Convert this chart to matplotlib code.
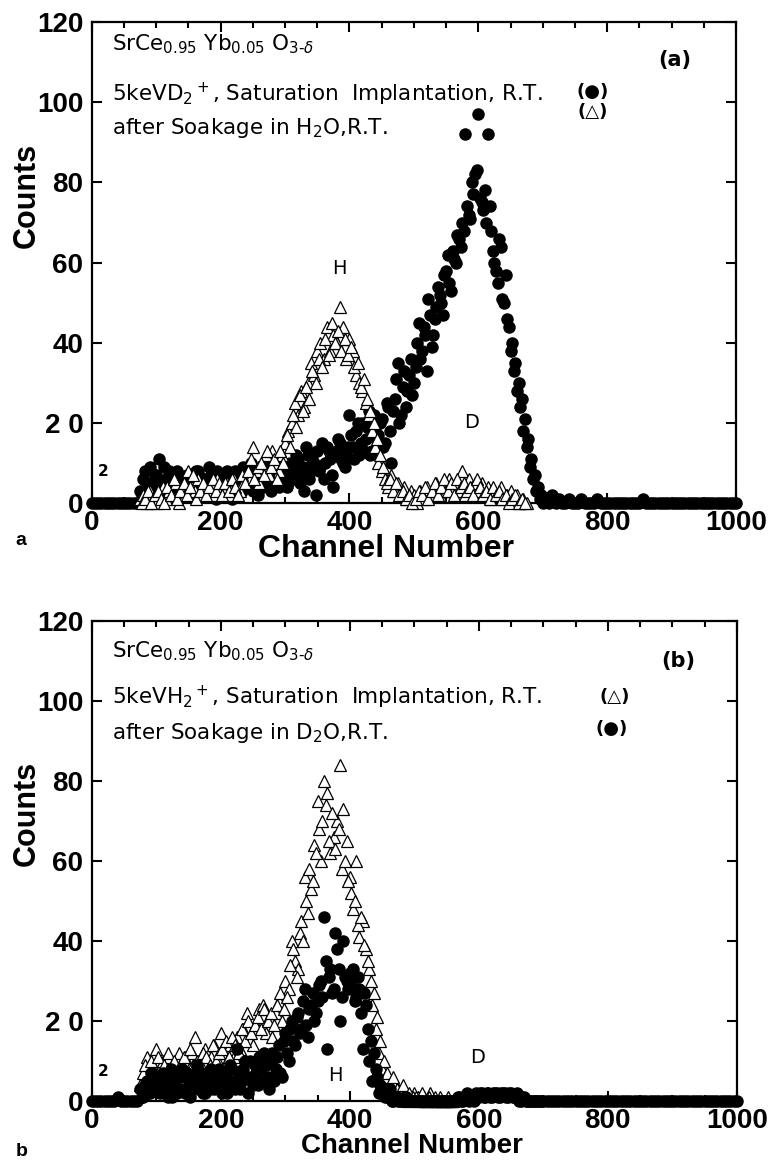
import numpy as np
import matplotlib
matplotlib.use("Agg")
import matplotlib.pyplot as plt
from matplotlib.ticker import MultipleLocator, FixedLocator, FixedFormatter

plt.rcParams['font.family'] = ['DejaVu Sans']
plt.rcParams['mathtext.fontset'] = 'dejavusans'

# channel grids: full range every 5 channels, plus in-between channels over the peaks
channels = np.arange(0, 1001, 5)
channels_mid = np.arange(77.5, 700, 5)

# (a) 5 keV D2+ implantation (filled circles)
a_implant = [
    0, 0, 0, 0, 0, 0, 0, 0, 0, 0, 0, 0, 0, 0, 0, 3, 6, 4, 9, 5,
    7, 11, 4, 6, 8, 3, 5, 7, 2, 6, 4, 7, 3, 8, 5, 6, 4, 7, 2, 8,
    5, 3, 8, 6, 2, 7, 4, 9, 5, 6, 3, 8, 7, 4, 9, 5, 6, 10, 4, 7,
    8, 5, 9, 6, 11, 7, 3, 12, 8, 10, 13, 9, 6, 14, 11, 4, 13, 15, 10, 12,
    22, 14, 18, 12, 20, 16, 23, 13, 19, 17, 21, 15, 24, 10, 26, 35, 22, 33, 28, 36,
    30, 40, 36, 44, 33, 47, 42, 49, 52, 47, 58, 55, 63, 60, 66, 70, 92, 72, 80, 82,
    97, 75, 78, 92, 68, 60, 55, 64, 50, 46, 38, 33, 28, 24, 18, 14, 9, 6, 3, 1,
    0, 1, 0, 2, 0, 1, 0, 0, 1, 0, 0, 0, 1, 0, 0, 0, 0, 1, 0, 0,
    0, 0, 0, 0, 0, 0, 0, 0, 0, 0, 0, 1, 0, 0, 0, 0, 0, 0, 0, 0,
    0, 0, 0, 0, 0, 0, 0, 0, 0, 0, 0, 0, 0, 0, 0, 0, 0, 0, 0, 0,
    0,
]
a_implant_mid = [
    2, 8, 5, 3, 7,
    5, 2, 9, 4, 6, 1, 8, 5, 3, 7, 6, 2, 8, 4, 6, 3, 9, 5, 1, 6,
    3, 7, 5, 1, 8, 6, 3, 7, 4, 10, 6, 2, 9, 5, 8, 3, 7, 11, 6, 9,
    4, 10, 7, 12, 5, 9, 14, 6, 11, 2, 8, 15, 10, 13, 7, 12, 16, 11, 9, 14,
    17, 11, 20, 15, 13, 19, 12, 22, 16, 20, 14, 25, 18, 23, 31, 20, 29, 24, 32, 27,
    34, 45, 38, 42, 51, 39, 46, 54, 50, 57, 62, 53, 61, 67, 64, 68, 74, 71, 77, 83,
    76, 73, 70, 74, 63, 58, 66, 51, 57, 44, 40, 35, 30, 26, 21, 16, 11, 7, 4, 2,
]
# (a) after soakage in H2O (open triangles)
a_soak = [
    0, 0, 0, 0, 0, 0, 0, 0, 0, 0, 0, 0, 0, 0, 0, 1, 2, 0, 3, 1,
    0, 2, 4, 1, 3, 2, 5, 0, 3, 2, 8, 4, 3, 6, 2, 4, 3, 5, 2, 6,
    4, 3, 5, 2, 6, 4, 3, 5, 7, 6, 14, 8, 5, 9, 12, 7, 13, 10, 8, 12,
    15, 18, 20, 25, 22, 28, 24, 30, 35, 32, 38, 40, 36, 44, 38, 42, 40, 49, 44, 36,
    41, 38, 32, 30, 28, 25, 22, 18, 14, 10, 8, 6, 4, 7, 3, 5, 2, 4, 1, 3,
    2, 0, 3, 1, 4, 2, 3, 5, 2, 4, 3, 6, 4, 5, 3, 8, 2, 6, 4, 5,
    3, 5, 2, 4, 1, 3, 2, 4, 1, 2, 3, 1, 2, 0, 1, 0, 0, 0, 0, 0,
    0, 0, 0, 0, 0, 0, 0, 0, 0, 0, 0, 0, 0, 0, 0, 0, 0, 0, 0, 0,
    0, 0, 0, 0, 0, 0, 0, 0, 0, 0, 0, 0, 0, 0, 0, 0, 0, 0, 0, 0,
    0, 0, 0, 0, 0, 0, 0, 0, 0, 0, 0, 0, 0, 0, 0, 0, 0, 0, 0, 0,
    0,
]
a_soak_mid = [
    0, 1, 3, 0, 2,
    3, 1, 0, 4, 2, 6, 1, 3, 5, 2, 4, 7, 1, 3, 5, 2, 4, 6, 3, 5,
    2, 5, 3, 6, 4, 2, 7, 5, 8, 11, 6, 9, 10, 7, 13, 9, 11, 6, 13, 10,
    17, 14, 22, 19, 27, 23, 29, 26, 33, 30, 36, 34, 41, 37, 45, 40, 43, 38, 41, 37,
    39, 34, 35, 29, 31, 26, 23, 20, 16, 12, 9, 5, 6, 3, 5, 2, 3, 1, 2, 0,
    1, 3, 2, 4, 1, 3, 5, 2, 4, 6, 3, 5, 2, 6, 4, 5, 3, 4, 2, 6,
    4, 2, 3, 1, 4, 2, 3, 1, 2, 0, 1, 2, 0, 1, 0, 0, 0, 0, 0, 0,
]
# (b) 5 keV H2+ implantation (open triangles)
b_implant = [
    0, 0, 0, 0, 0, 0, 0, 0, 0, 0, 0, 0, 0, 0, 0, 4, 7, 11, 6, 9,
    13, 8, 10, 6, 11, 9, 7, 12, 9, 11, 8, 12, 16, 10, 9, 13, 8, 11, 14, 10,
    17, 12, 10, 14, 11, 16, 13, 18, 22, 15, 14, 19, 23, 24, 17, 21, 16, 22, 25, 20,
    30, 28, 40, 35, 33, 45, 56, 47, 53, 64, 75, 60, 80, 77, 62, 66, 70, 84, 73, 65,
    56, 48, 60, 41, 45, 38, 33, 24, 18, 12, 8, 6, 3, 5, 2, 3, 1, 2, 0, 1,
    2, 1, 0, 1, 0, 2, 0, 0, 1, 0, 0, 0, 0, 0, 1, 0, 0, 0, 0, 0,
    0, 0, 0, 0, 0, 0, 0, 0, 0, 0, 0, 0, 0, 0, 0, 0, 0, 0, 0, 0,
    0, 0, 0, 0, 0, 0, 0, 0, 0, 0, 0, 0, 0, 0, 0, 0, 0, 0, 0, 0,
    0, 0, 0, 0, 0, 0, 0, 0, 0, 0, 0, 0, 0, 0, 0, 0, 0, 0, 0, 0,
    0, 0, 0, 0, 0, 0, 0, 0, 0, 0, 0, 0, 0, 0, 0, 0, 0, 0, 0, 0,
    0,
]
b_implant_mid = [
    2, 9, 5, 10, 7,
    11, 6, 9, 12, 8, 10, 5, 9, 11, 7, 13, 9, 10, 8, 12, 11, 9, 14, 10, 12,
    13, 15, 11, 16, 14, 12, 18, 15, 20, 17, 19, 21, 18, 23, 20, 22, 19, 24, 27, 23,
    26, 34, 38, 31, 42, 40, 50, 58, 55, 62, 68, 70, 74, 65, 72, 63, 68, 58, 60, 55,
    52, 50, 44, 46, 39, 35, 30, 27, 21, 15, 10, 7, 4, 6, 3, 2, 4, 1, 2, 1,
    1, 0, 2, 0, 1, 0, 1, 0, 0, 0, 1, 0, 0, 0, 0, 0, 0, 0, 0, 0,
    0, 0, 0, 0, 0, 0, 0, 0, 0, 0, 0, 0, 0, 0, 0, 0, 0, 0, 0, 0,
]
# (b) after soakage in D2O (filled circles)
b_soak = [
    0, 0, 0, 0, 0, 0, 0, 0, 1, 0, 0, 0, 0, 0, 0, 3, 1, 5, 2, 6,
    4, 2, 7, 3, 5, 1, 6, 3, 8, 2, 5, 4, 7, 3, 6, 2, 5, 8, 3, 6,
    4, 7, 2, 9, 5, 13, 3, 8, 6, 10, 4, 7, 11, 5, 9, 3, 12, 8, 14, 6,
    17, 10, 20, 14, 22, 18, 28, 16, 24, 20, 25, 30, 46, 13, 33, 28, 38, 20, 40, 30,
    32, 33, 26, 28, 13, 24, 10, 5, 8, 2, 3, 1, 2, 0, 1, 0, 0, 1, 0, 0,
    0, 0, 0, 0, 0, 0, 0, 0, 0, 0, 0, 0, 0, 0, 1, 0, 1, 0, 1, 2,
    1, 2, 1, 2, 1, 2, 1, 2, 2, 1, 2, 1, 2, 0, 1, 0, 0, 0, 0, 0,
    0, 0, 0, 0, 0, 0, 0, 0, 0, 0, 0, 0, 0, 0, 0, 0, 0, 0, 0, 0,
    0, 0, 0, 0, 0, 0, 0, 0, 0, 0, 0, 0, 0, 0, 0, 0, 0, 0, 0, 0,
    0, 0, 0, 0, 0, 0, 0, 0, 0, 0, 0, 0, 0, 0, 0, 0, 0, 0, 0, 0,
    0,
]
b_soak_mid = [
    1, 4, 2, 7, 3,
    6, 3, 5, 1, 8, 4, 2, 6, 3, 7, 1, 5, 9, 4, 2, 7, 3, 6, 4, 8,
    2, 6, 4, 8, 3, 7, 5, 10, 2, 6, 9, 4, 8, 12, 6, 10, 5, 11, 7, 15,
    12, 18, 15, 21, 17, 25, 19, 23, 27, 22, 29, 26, 35, 31, 27, 42, 33, 26, 31, 28,
    29, 25, 31, 22, 27, 18, 15, 12, 6, 4, 2, 1, 3, 0, 1, 0, 0, 1, 0, 0,
    0, 0, 0, 0, 0, 0, 0, 0, 0, 0, 0, 0, 0, 1, 0, 1, 2, 1, 0, 1,
    2, 1, 2, 1, 2, 2, 1, 2, 1, 2, 1, 1, 0, 1, 0, 0, 0, 0, 0, 0,
]

ytick_vals = [0, 20, 40, 60, 80, 100, 120]
ytick_labels = ['0', '2 0', '40', '60', '80', '100', '120']
xtick_vals = [0, 200, 400, 600, 800, 1000]

bold = dict(family=['Liberation Sans Narrow', 'Liberation Sans'], weight='bold')
note = 15.5

fig = plt.figure(figsize=(7.78, 11.62), dpi=100)
ax_a = fig.add_axes([0.118, 0.567, 0.828, 0.414])
ax_b = fig.add_axes([0.118, 0.0525, 0.829, 0.413])


def circles(ax, x, y):
    ax.plot(x, y, 'o', ms=8, color='black', linestyle='none', clip_on=False, zorder=3)


def triangles(ax, x, y):
    ax.plot(x, y, '^', ms=8.4, mfc='white', mec='black', mew=0.9,
            linestyle='none', clip_on=False, zorder=3)


def pick(x, y, lo, hi):
    x = np.asarray(x)
    y = np.asarray(y)
    keep = (x >= lo) & (x <= hi)
    return x[keep], y[keep]


def style(ax, xlab_size, xlab_pos, ylab_pos):
    ax.set_xlim(0, 1000)
    ax.set_ylim(0, 120)
    for s in ax.spines.values():
        s.set_linewidth(1.6)
    ax.xaxis.set_major_locator(FixedLocator(xtick_vals))
    ax.xaxis.set_minor_locator(MultipleLocator(50))
    ax.yaxis.set_major_locator(FixedLocator(ytick_vals))
    ax.yaxis.set_major_formatter(FixedFormatter(ytick_labels))
    ax.tick_params(which='both', direction='in', top=True, right=True, width=1.5)
    ax.tick_params(which='major', length=7)
    ax.tick_params(which='minor', length=4)
    ax.tick_params(axis='x', pad=5)
    ax.tick_params(axis='y', pad=6)
    for lab in ax.get_xticklabels() + ax.get_yticklabels():
        lab.set_fontsize(20)
        lab.set_fontfamily(bold['family'])
        lab.set_fontweight('bold')
    ax.set_ylabel('Counts', fontsize=22, **bold)
    ax.yaxis.set_label_coords(-0.078, ylab_pos)
    ax.set_xlabel('Channel Number', fontsize=xlab_size, **bold)
    ax.xaxis.set_label_coords(*xlab_pos)


# panel (a)
circles(ax_a, channels, a_implant)
circles(ax_a, channels_mid, a_implant_mid)
triangles(ax_a, *pick(channels, a_soak, 75, 675))
triangles(ax_a, *pick(channels_mid, a_soak_mid, 75, 675))
style(ax_a, 23, (0.456, -0.064), 0.64)
ax_a.text(31, 114.5, r'SrCe$_{0.95}$ Yb$_{0.05}$ O$_{3\text{-}\delta}$', fontsize=note, va='center')
ax_a.text(31, 102, r'5keVD$_2$$^+$, Saturation  Implantation, R.T.', fontsize=note, va='center')
ax_a.text(31, 93.5, r'after Soakage in H$_2$O,R.T.', fontsize=note, va='center')
ax_a.text(778, 102.5, '(●)', fontsize=13, va='center', ha='center', weight='bold')
ax_a.text(778, 97.5, '(△)', fontsize=13, va='center', ha='center', weight='bold')
ax_a.text(905, 110.5, '(a)', fontsize=15, va='center', ha='center', weight='bold')
ax_a.text(384, 58.5, 'H', fontsize=14, va='center', ha='center')
ax_a.text(589, 20, 'D', fontsize=14, va='center', ha='center')
ax_a.text(17, 8, '2', fontsize=11, va='center', ha='center', weight='bold')
fig.text(0.02, 0.531, 'a', fontsize=14, **bold)

# panel (b)
triangles(ax_b, *pick(channels, b_implant, 75, 560))
triangles(ax_b, *pick(channels_mid, b_implant_mid, 75, 560))
circles(ax_b, channels, b_soak)
circles(ax_b, channels_mid, b_soak_mid)
style(ax_b, 20, (0.496, -0.066), 0.60)
ax_b.text(31, 112.5, r'SrCe$_{0.95}$ Yb$_{0.05}$ O$_{3\text{-}\delta}$', fontsize=note, va='center')
ax_b.text(31, 101, r'5keVH$_2$$^+$, Saturation  Implantation, R.T.', fontsize=note, va='center')
ax_b.text(31, 92, r'after Soakage in D$_2$O,R.T.', fontsize=note, va='center')
ax_b.text(811, 101, '(△)', fontsize=13, va='center', ha='center', weight='bold')
ax_b.text(806, 93, '(●)', fontsize=13, va='center', ha='center', weight='bold')
ax_b.text(910, 110, '(b)', fontsize=15, va='center', ha='center', weight='bold')
ax_b.text(377, 6.5, 'H', fontsize=14, va='center', ha='center')
ax_b.text(598, 11, 'D', fontsize=14, va='center', ha='center')
ax_b.text(17, 7.5, '2', fontsize=11, va='center', ha='center', weight='bold')
fig.text(0.02, 0.005, 'b', fontsize=14, **bold)

fig.savefig('out.png', dpi=100)
